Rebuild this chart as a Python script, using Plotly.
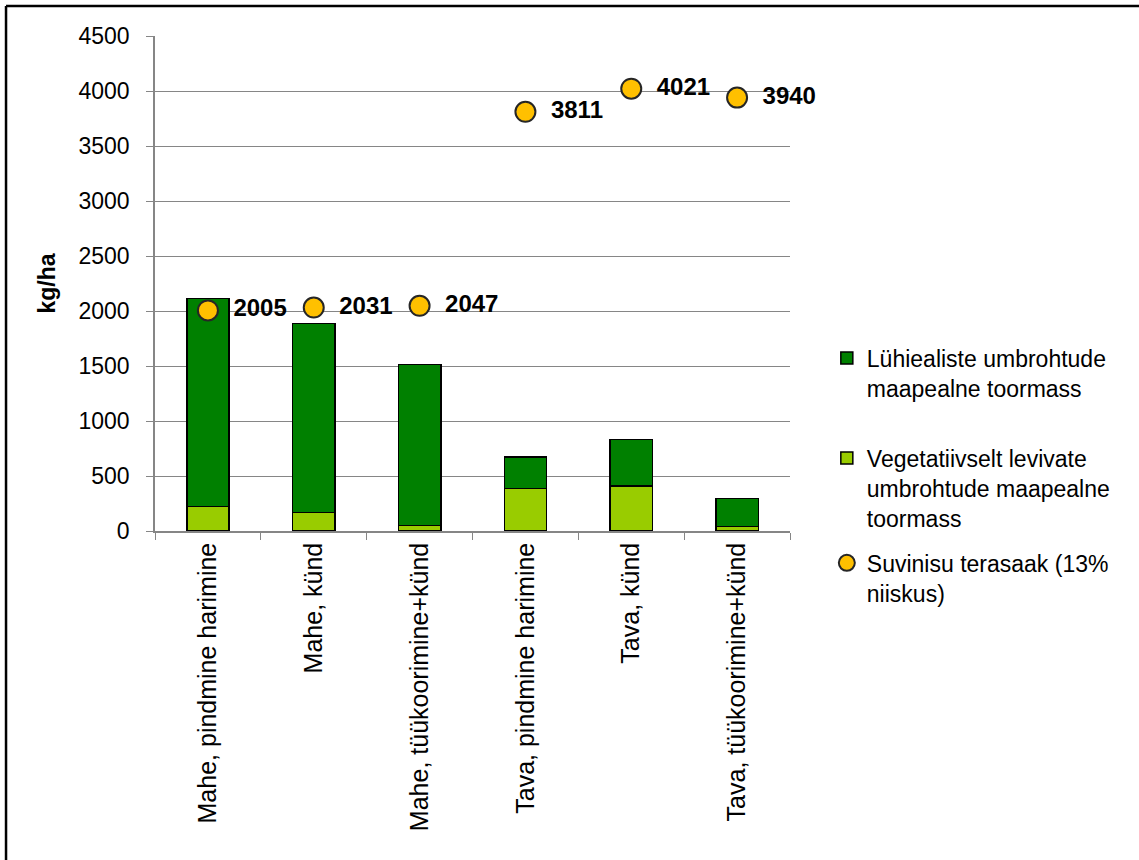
import plotly.graph_objects as go

# Treatments (x-axis categories)
categories = [
    "Mahe, pindmine harimine",
    "Mahe, künd",
    "Mahe, tüükoorimine+künd",
    "Tava, pindmine harimine",
    "Tava, künd",
    "Tava, tüükoorimine+künd",
]

# Weed above-ground fresh mass, kg/ha (stacked bars)
vegetative_weeds = [225, 166, 52, 388, 409, 39]
annual_weeds = [1890, 1722, 1463, 287, 421, 258]

# Spring wheat grain yield at 13% moisture, kg/ha
grain_yield = [2005, 2031, 2047, 3811, 4021, 3940]

y_ticks = [0, 500, 1000, 1500, 2000, 2500, 3000, 3500, 4000, 4500]

FONT = "Liberation Sans, Arial, sans-serif"
GRID = "#868686"

fig = go.Figure()

fig.add_trace(go.Bar(
    x=categories, y=vegetative_weeds,
    name="Vegetatiivselt levivate<br>umbrohtude maapealne<br>toormass",
    marker=dict(color="#99CC00", line=dict(color="black", width=1.5)),
    legend="legend2",
))
fig.add_trace(go.Bar(
    x=categories, y=annual_weeds,
    name="Lühiealiste umbrohtude<br>maapealne toormass",
    marker=dict(color="#008000", line=dict(color="black", width=1.5)),
    legend="legend",
))
fig.add_trace(go.Scatter(
    x=categories, y=grain_yield,
    mode="markers+text",
    name="Suvinisu terasaak (13%<br>niiskus)",
    marker=dict(size=20, color="#FFC000", line=dict(color="#262626", width=2)),
    text=["\u2002" + str(v) for v in grain_yield],
    textposition="middle right",
    textfont=dict(family=FONT, size=24, color="black", weight="bold"),
    cliponaxis=False,
    legend="legend3",
))

legend_common = dict(
    font=dict(family=FONT, size=23, color="black"),
    xanchor="left", yanchor="top", x=1.058,
    valign="top", bgcolor="rgba(0,0,0,0)",
)

fig.update_layout(
    width=1139, height=860,
    margin=dict(l=155, r=349, t=36, b=329),
    paper_bgcolor="white", plot_bgcolor="white",
    barmode="stack", bargap=0.6,
    font=dict(family=FONT, size=22, color="black"),
    legend=dict(y=0.393, **legend_common),
    legend2=dict(y=0.191, **legend_common),
    legend3=dict(y=-0.021, **legend_common),
    xaxis=dict(
        type="category", tickangle=-90,
        showline=True, linecolor=GRID, linewidth=1.5,
        ticks="outside", tickson="boundaries", ticklen=7, tickcolor=GRID,
        tickfont=dict(family=FONT, size=25, color="black"),
        showgrid=False,
    ),
    yaxis=dict(
        range=[0, 4500], tickvals=y_ticks,
        showline=True, linecolor=GRID, linewidth=1.5,
        ticks="outside", ticklen=7, tickcolor=GRID,
        ticklabelstandoff=12,
        showgrid=True, gridcolor=GRID, gridwidth=1.2,
        zeroline=False,
        tickfont=dict(family=FONT, size=23, color="black"),
        title=dict(text="<b>kg/ha</b>", font=dict(family=FONT, size=23, color="black"), standoff=16),
    ),
    showlegend=True,
)

# Chart frame along the top and left edges
fig.add_shape(type="line", xref="paper", yref="paper",
              x0=-0.2346, x1=1.6, y0=1.0606, y1=1.0606,
              line=dict(color="black", width=2.5))
fig.add_shape(type="line", xref="paper", yref="paper",
              x0=-0.2346, x1=-0.2346, y0=1.0606, y1=-0.7,
              line=dict(color="black", width=2.5))

fig.write_html("out.html")
